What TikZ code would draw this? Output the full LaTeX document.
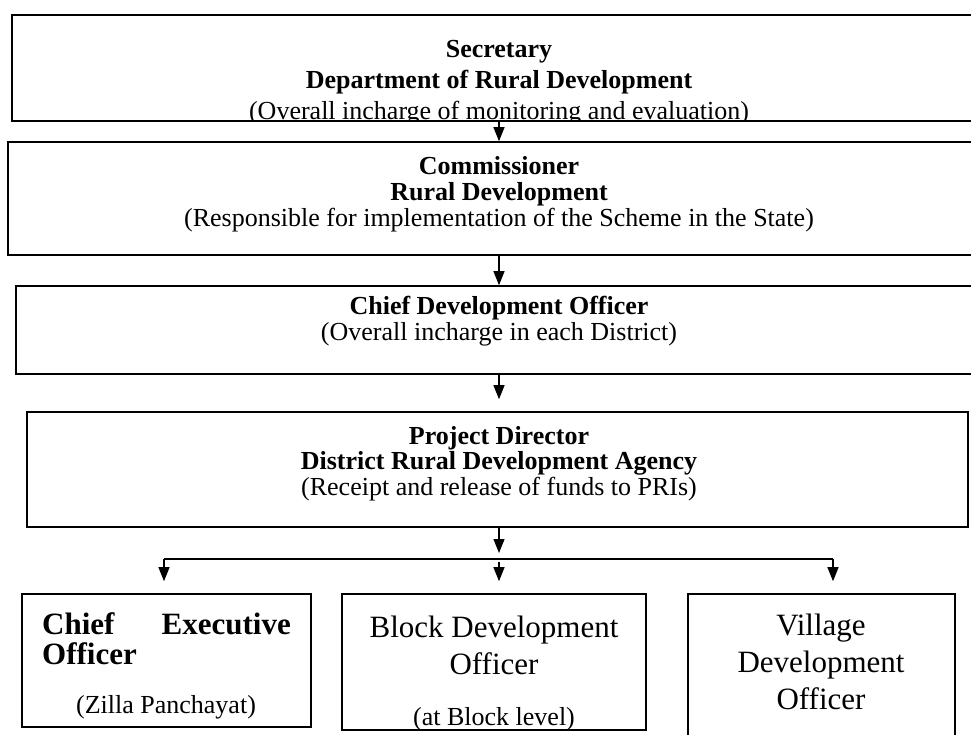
\documentclass[tikz,border=0pt]{standalone}
\usepackage{fontspec}
\setmainfont{Liberation Serif}
\usetikzlibrary{arrows.meta}
\newcommand\mainsz{\fontsize{26}{28}\selectfont}
\newcommand\bigsz{\fontsize{31}{34}\selectfont}
\tikzset{
  box/.style={draw=black, line width=1.6pt, rectangle, inner sep=0pt},
  arr/.style={line width=1.2pt, -{Triangle[length=14pt,width=11pt]}},
  busline/.style={line width=1.4pt},
  tb/.style={font=\mainsz\bfseries, anchor=base, inner sep=0pt},
  tr/.style={font=\mainsz, anchor=base, inner sep=0pt},
  bb/.style={font=\bigsz\bfseries, anchor=base, inner sep=0pt},
  br/.style={font=\bigsz, anchor=base, inner sep=0pt},
}
\begin{document}
\begin{tikzpicture}[x=1pt,y=-1pt]
\useasboundingbox (0,0) rectangle (971,734);
\fill[white] (0,0) rectangle (971,734);
% boxes
\node[box, minimum width=968pt, minimum height=106pt] (b1) at (496,68) {};
\node[box, minimum width=972pt, minimum height=113pt] (b2) at (494,198.5) {};
\node[box, minimum width=964pt, minimum height=88pt] (b3) at (498,330) {};
\node[box, minimum width=941pt, minimum height=115pt] (b4) at (497.5,469.5) {};
\node[box, minimum width=289pt, minimum height=133pt] (c1) at (166.5,660.5) {};
\node[box, minimum width=304pt, minimum height=136pt] (c2) at (494,662) {};
\node[box, minimum width=267pt, minimum height=151pt] (c3) at (821.5,669.5) {};
% texts
\begin{scope}
\clip (b1.north west) rectangle (b1.south east);
\node[tb] (s1) at (499,57) {Secretary};
\node[tb] (s2) at (499,88) {Department of Rural Development};
\node[tr] (s3) at (499,119) {(Overall incharge of monitoring and evaluation)};
\end{scope}
\node[tb] (m1) at (499,174) {Commissioner};
\node[tb] (m2) at (499,200) {Rural Development};
\node[tr] (m3) at (499,226) {(Responsible for implementation of the Scheme in the State)};
\node[tb] (d1) at (499,314) {Chief Development Officer};
\node[tr] (d2) at (499,340) {(Overall incharge in each District)};
\node[tb] (p1) at (499,444) {Project Director};
\node[tb] (p2) at (499,469) {District Rural Development Agency};
\node[tr] (p3) at (499,495) {(Receipt and release of funds to PRIs)};
\node[bb, anchor=base west] (e1) at (42,634) {Chief};
\node[bb, anchor=base east] (e2) at (291,634) {Executive};
\node[bb, anchor=base west] (e3) at (42,664) {Officer};
\node[tr] (e4) at (166,713) {(Zilla Panchayat)};
\node[br] (k1) at (494,637) {Block Development};
\node[br] (k2) at (494,674) {Officer};
\begin{scope}
\clip (c2.north west) rectangle (c2.south east);
\node[tr] (k3) at (494,725) {(at Block level)};
\end{scope}
\node[br] (v1) at (821,635) {Village};
\node[br] (v2) at (821,672) {Development};
\node[br] (v3) at (821,709) {Officer};
% connectors
\coordinate (ax) at (499,0);
\coordinate (bus) at (499,559);
\coordinate (busL) at (164,559);
\coordinate (busR) at (833,559);
\draw[arr] (b1.south -| ax) -- (b2.north -| ax);
\draw[arr] (b2.south -| ax) -- (b3.north -| ax);
\draw[arr] (b3.south -| ax) -- ([yshift=12pt]b4.north -| ax);
\draw[arr] (b4.south -| ax) -- ([yshift=6pt]bus);
\draw[busline] (busL) -- (busR);
\draw[arr] (busL) -- ([yshift=12pt]c1.north -| busL);
\draw[arr] ([yshift=-3pt]bus) -- ([yshift=12pt]c2.north -| bus);
\draw[arr] (busR) -- ([yshift=12pt]c3.north -| busR);
\end{tikzpicture}
\end{document}
